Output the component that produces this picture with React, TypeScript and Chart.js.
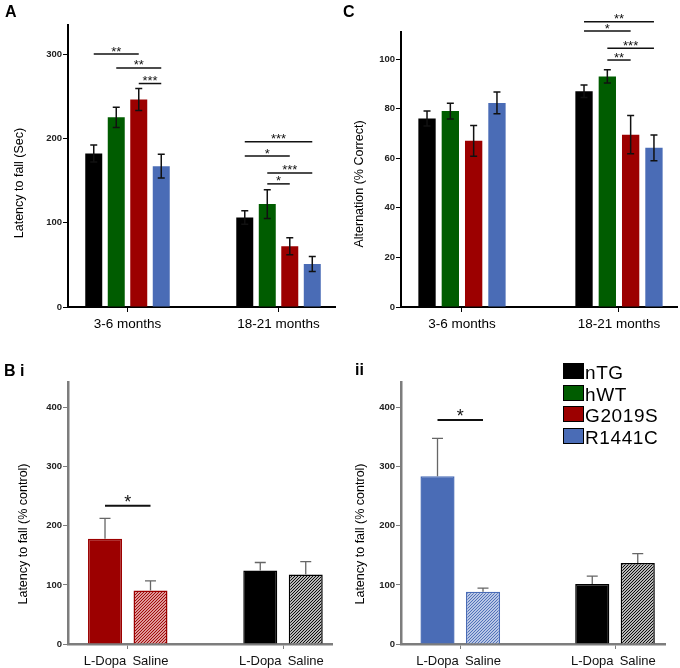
import React, { useEffect, useRef } from 'react';
import { Chart, registerables } from 'chart.js';

Chart.register(...registerables);

const FONT = '"Liberation Sans", Arial, Helvetica, sans-serif';

// ---------- data ----------
const genotypes = ['nTG', 'hWT', 'G2019S', 'R1441C'];
const genotypeColors = ['#000000', '#005c00', '#9c0000', '#4a6cb6'];
const ageGroups = ['3-6 months', '18-21 months'];

// Panel A: latency to fall (Sec), [3-6 months, 18-21 months]
const latencyNTG = [182, 106];
const latencyHWT = [225, 122];
const latencyG2019S = [246, 72];
const latencyR1441C = [167, 51];
const latencyErrNTG = [10, 8];
const latencyErrHWT = [12, 17];
const latencyErrG2019S = [13, 10];
const latencyErrR1441C = [14, 9];
const latencyTicks = [0, 100, 200, 300];

// Panel C: alternation (% correct)
const alternationNTG = [76, 87];
const alternationHWT = [79, 93];
const alternationG2019S = [67, 69.5];
const alternationR1441C = [82.3, 64.2];
const alternationErrNTG = [3, 2.5];
const alternationErrHWT = [3.2, 2.7];
const alternationErrG2019S = [6.2, 7.7];
const alternationErrR1441C = [4.4, 5.2];
const alternationTicks = [0, 20, 40, 60, 80, 100];

// Panel B: latency to fall (% control), L-Dopa vs Saline
const treatments = ['L-Dopa', 'Saline'];
const biLDopa = [178, 124.5];
const biSaline = [90.5, 117.5];
const biLDopaErr = [34.5, 13.5];
const biSalineErr = [16.5, 22];
const biiLDopa = [284, 101.5];
const biiSaline = [88.5, 137];
const biiLDopaErr = [64, 13.5];
const biiSalineErr = [6, 16];
const percentTicks = [0, 100, 200, 300, 400];

// Significance brackets: [group, from bar, to bar, bracket level (data units), label]
const sigA: [number, number, number, number, string][] = [
  [0, 0, 2, 300, '**'],
  [0, 1, 3, 283.5, '**'],
  [0, 2, 3, 265, '***'],
  [1, 0, 3, 196, '***'],
  [1, 0, 2, 179, '*'],
  [1, 1, 3, 159, '***'],
  [1, 1, 2, 146, '*'],
];
const sigC: [number, number, number, number, string][] = [
  [1, 0, 3, 115, '**'],
  [1, 0, 2, 111.3, '*'],
  [1, 1, 3, 104.3, '***'],
  [1, 1, 2, 99.6, '**'],
];
const sigBi: [number, number, number, number, string][] = [[0, 0, 1, 234, '*']];
const sigBii: [number, number, number, number, string][] = [[0, 0, 1, 379, '*']];

// ---------- helpers ----------
function hatch(bg: string, fg: string) {
  const c = document.createElement('canvas');
  c.width = 3;
  c.height = 3;
  const g = c.getContext('2d')!;
  g.fillStyle = bg;
  g.fillRect(0, 0, 3, 3);
  g.strokeStyle = fg;
  g.lineWidth = 1.1;
  g.beginPath();
  g.moveTo(0, 3);
  g.lineTo(3, 0);
  g.moveTo(-1, 1);
  g.lineTo(1, -1);
  g.moveTo(2, 4);
  g.lineTo(4, 2);
  g.stroke();
  return g.createPattern(c, 'repeat');
}

type Series = {
  label: string;
  values: number[];
  errors: number[];
  fill: any;
  border: any;
  borderWidth: number;
};

type Spec = {
  left: number;
  top: number;
  width: number;
  height: number;
  area: { l: number; t: number; r: number; b: number };
  xMin: number;
  xMax: number;
  yMax: number;
  yTicks: number[];
  xLabels: string[] | null;
  barLabels: string[] | null;
  series: () => Series[];
  catPct: number;
  barPct: number;
  errUpOnly: boolean;
  errColor: string;
  errWidth: number;
  capHalf: number;
  sig: [number, number, number, number, string][];
  sigFont: number;
  sigWidth: number;
  yTitle: string;
  titleX: number;
  titleY: number;
  axisColor: string;
  axisWidth: number;
};

function overlay(spec: Spec, series: Series[]) {
  return {
    id: 'overlay',
    afterDatasetsDraw(chart: any) {
      const ctx = chart.ctx as CanvasRenderingContext2D;
      const ys = chart.scales.y;
      const area = chart.chartArea;
      ctx.save();
      // error bars
      series.forEach((s, d) => {
        const meta = chart.getDatasetMeta(d);
        meta.data.forEach((bar: any, i: number) => {
          const v = s.values[i];
          const e = s.errors[i];
          const x = bar.x;
          const yTop = ys.getPixelForValue(v + e);
          const yBot = spec.errUpOnly ? bar.y : ys.getPixelForValue(v - e);
          ctx.strokeStyle = spec.errColor;
          ctx.lineWidth = spec.errWidth;
          ctx.beginPath();
          ctx.moveTo(x, yBot);
          ctx.lineTo(x, yTop);
          ctx.moveTo(x - spec.capHalf, yTop);
          ctx.lineTo(x + spec.capHalf, yTop);
          if (!spec.errUpOnly) {
            ctx.moveTo(x - spec.capHalf, yBot);
            ctx.lineTo(x + spec.capHalf, yBot);
          }
          ctx.stroke();
        });
      });
      // significance brackets
      spec.sig.forEach(([g, a, b, level, text]) => {
        const xa = chart.getDatasetMeta(a).data[g].x;
        const xb = chart.getDatasetMeta(b).data[g].x;
        const yy = ys.getPixelForValue(level);
        ctx.strokeStyle = '#111';
        ctx.lineWidth = spec.sigWidth;
        ctx.beginPath();
        ctx.moveTo(xa, yy);
        ctx.lineTo(xb, yy);
        ctx.stroke();
        ctx.fillStyle = '#111';
        ctx.font = `${spec.sigFont}px ${FONT}`;
        ctx.textAlign = 'center';
        ctx.textBaseline = 'alphabetic';
        ctx.fillText(text, (xa + xb) / 2, yy + (spec.sigFont > 14 ? 2 : 1.5));
      });
      // per-bar labels (panel B)
      if (spec.barLabels) {
        ctx.fillStyle = '#111';
        ctx.font = `13px ${FONT}`;
        ctx.textAlign = 'center';
        ctx.textBaseline = 'middle';
        series.forEach((s, d) => {
          chart.getDatasetMeta(d).data.forEach((bar: any) => {
            ctx.fillText(spec.barLabels![d], bar.x, area.bottom + 17);
          });
        });
      }
      // y title
      ctx.translate(spec.titleX, spec.titleY);
      ctx.rotate(-Math.PI / 2);
      ctx.fillStyle = '#000';
      ctx.font = `12.5px ${FONT}`;
      ctx.textAlign = 'center';
      ctx.textBaseline = 'middle';
      ctx.fillText(spec.yTitle, 0, 0);
      ctx.restore();
    },
  };
}

function buildChart(canvas: HTMLCanvasElement, spec: Spec) {
  const series = spec.series();
  const datasets = series.map((s) => ({
    label: s.label,
    data: s.values.map((v, i) => ({ x: i + 1, y: v })),
    backgroundColor: s.fill,
    borderColor: s.border,
    borderWidth: s.borderWidth,
    categoryPercentage: spec.catPct,
    barPercentage: spec.barPct,
  }));
  const ac = spec.axisColor;
  return new Chart(canvas, {
    type: 'bar',
    data: { datasets } as any,
    options: {
      responsive: false,
      maintainAspectRatio: false,
      animation: false,
      events: [],
      layout: {
        padding: { top: spec.area.t, right: spec.width - spec.area.r, left: 0, bottom: 0 },
      },
      plugins: { legend: { display: false }, tooltip: { enabled: false } },
      scales: {
        x: {
          type: 'linear',
          min: spec.xMin,
          max: spec.xMax,
          offset: false,
          afterBuildTicks: (s: any) => {
            s.ticks = [{ value: 1 }, { value: 2 }];
          },
          afterFit: (s: any) => {
            s.height = spec.height - spec.area.b;
            s.paddingLeft = 0;
            s.paddingRight = 0;
          },
          grid: {
            display: true,
            offset: false,
            drawOnChartArea: false,
            drawTicks: true,
            tickLength: 5,
            color: ac,
            lineWidth: 1,
          },
          border: { display: true, color: ac, width: spec.axisWidth },
          ticks: {
            autoSkip: false,
            maxRotation: 0,
            padding: 4,
            color: '#000',
            font: { family: FONT, size: 13.5 },
            callback: (v: any) => (spec.xLabels ? spec.xLabels[Math.round(v) - 1] ?? '' : ''),
          },
        },
        y: {
          type: 'linear',
          min: 0,
          max: spec.yMax,
          afterBuildTicks: (s: any) => {
            s.ticks = spec.yTicks.map((v) => ({ value: v }));
          },
          afterFit: (s: any) => {
            s.width = spec.area.l;
            s.paddingTop = 0;
            s.paddingBottom = 0;
          },
          grid: {
            display: true,
            drawOnChartArea: false,
            drawTicks: true,
            tickLength: 5,
            color: ac,
            lineWidth: 1,
          },
          border: { display: true, color: ac, width: spec.axisWidth },
          ticks: {
            padding: 1,
            color: '#222',
            font: { family: FONT, size: 9.5, weight: 'bold' },
          },
        },
      },
    } as any,
    plugins: [overlay(spec, series)],
  });
}

// ---------- panel specs ----------
const genotypeSeries = (vals: number[][], errs: number[][]) => () =>
  genotypes.map((g, k) => ({
    label: g,
    values: vals[k],
    errors: errs[k],
    fill: genotypeColors[k],
    border: genotypeColors[k],
    borderWidth: 0,
  }));

const specA: Spec = {
  left: 0, top: 0, width: 340, height: 334,
  area: { l: 68, t: 25, r: 335, b: 307 },
  xMin: 0.606, xMax: 2.374, yMax: 334.4, yTicks: latencyTicks,
  xLabels: ageGroups, barLabels: null,
  series: genotypeSeries(
    [latencyNTG, latencyHWT, latencyG2019S, latencyR1441C],
    [latencyErrNTG, latencyErrHWT, latencyErrG2019S, latencyErrR1441C]
  ),
  catPct: 0.596, barPct: 0.755,
  errUpOnly: false, errColor: '#111', errWidth: 1.5, capHalf: 3.5,
  sig: sigA, sigFont: 13, sigWidth: 1.5,
  yTitle: 'Latency to fall (Sec)', titleX: 20, titleY: 183,
  axisColor: '#000', axisWidth: 2,
};

const specC: Spec = {
  left: 340, top: 0, width: 340, height: 334,
  area: { l: 61, t: 32, r: 337, b: 307 },
  xMin: 0.6115, xMax: 2.3695, yMax: 110.9, yTicks: alternationTicks,
  xLabels: ageGroups, barLabels: null,
  series: genotypeSeries(
    [alternationNTG, alternationHWT, alternationG2019S, alternationR1441C],
    [alternationErrNTG, alternationErrHWT, alternationErrG2019S, alternationErrR1441C]
  ),
  catPct: 0.594, barPct: 0.743,
  errUpOnly: false, errColor: '#111', errWidth: 1.5, capHalf: 3.5,
  sig: sigC, sigFont: 13, sigWidth: 1.5,
  yTitle: 'Alternation (% Correct)', titleX: 20, titleY: 184,
  axisColor: '#000', axisWidth: 2,
};

const treatmentSeries = (
  groupColors: string[],
  hatchBg: string[],
  ldopa: number[],
  ldopaErr: number[],
  saline: number[],
  salineErr: number[]
) => () => [
  {
    label: treatments[0],
    values: ldopa,
    errors: ldopaErr,
    fill: groupColors,
    border: groupColors,
    borderWidth: 1.5,
  },
  {
    label: treatments[1],
    values: saline,
    errors: salineErr,
    fill: groupColors.map((c, i) => hatch(hatchBg[i], c)),
    border: groupColors,
    borderWidth: 1.5,
  },
];

const specBi: Spec = {
  left: 0, top: 334, width: 340, height: 334,
  area: { l: 68, t: 48, r: 332, b: 310 },
  xMin: 0.6151, xMax: 2.3156, yMax: 443.5, yTicks: percentTicks,
  xLabels: null, barLabels: treatments,
  series: treatmentSeries(
    [genotypeColors[2], genotypeColors[0]],
    ['#f8d6d6', '#ffffff'],
    biLDopa, biLDopaErr, biSaline, biSalineErr
  ),
  catPct: 0.586, barPct: 0.747,
  errUpOnly: true, errColor: '#666', errWidth: 1.3, capHalf: 5.5,
  sig: sigBi, sigFont: 18, sigWidth: 2,
  yTitle: 'Latency to fall (% control)', titleX: 24, titleY: 200,
  axisColor: '#7d7d7d', axisWidth: 2.5,
};

const specBii: Spec = {
  left: 340, top: 334, width: 340, height: 334,
  area: { l: 61, t: 48, r: 325, b: 310 },
  xMin: 0.6171, xMax: 2.3231, yMax: 443.5, yTicks: percentTicks,
  xLabels: null, barLabels: treatments,
  series: treatmentSeries(
    [genotypeColors[3], genotypeColors[0]],
    ['#e6ecf8', '#ffffff'],
    biiLDopa, biiLDopaErr, biiSaline, biiSalineErr
  ),
  catPct: 0.588, barPct: 0.75,
  errUpOnly: true, errColor: '#666', errWidth: 1.3, capHalf: 5.5,
  sig: sigBii, sigFont: 18, sigWidth: 2,
  yTitle: 'Latency to fall (% control)', titleX: 21, titleY: 200,
  axisColor: '#7d7d7d', axisWidth: 2.5,
};

function Panel({ spec }: { spec: Spec }) {
  const ref = useRef<HTMLCanvasElement | null>(null);
  useEffect(() => {
    const chart = buildChart(ref.current!, spec);
    return () => chart.destroy();
  }, [spec]);
  return (
    <canvas
      ref={ref}
      width={spec.width}
      height={spec.height}
      style={{ position: 'absolute', left: spec.left, top: spec.top, width: spec.width, height: spec.height }}
    />
  );
}

const letterStyle: React.CSSProperties = {
  position: 'absolute',
  fontFamily: FONT,
  fontWeight: 'bold',
  fontSize: 16,
  lineHeight: '16px',
  color: '#000',
  whiteSpace: 'pre',
};

export default function App() {
  return (
    <div style={{ position: 'absolute', left: 0, top: 0, width: 680, height: 668, background: '#fff', overflow: 'hidden' }}>
      <Panel spec={specA} />
      <Panel spec={specC} />
      <Panel spec={specBi} />
      <Panel spec={specBii} />
      <div style={{ ...letterStyle, left: 5, top: 4 }}>A</div>
      <div style={{ ...letterStyle, left: 343, top: 4 }}>C</div>
      <div style={{ ...letterStyle, left: 4, top: 363 }}>B i</div>
      <div style={{ ...letterStyle, left: 355, top: 362 }}>ii</div>
      {genotypes.map((g, k) => (
        <div key={g} style={{ position: 'absolute', left: 563, top: 363 + k * 21.7, height: 16, display: 'flex', alignItems: 'flex-end' }}>
          <div style={{ width: 19, height: 14, background: genotypeColors[k], border: '1px solid #000' }} />
          <div
            style={{
              fontFamily: FONT,
              fontSize: 19,
              lineHeight: '16px',
              letterSpacing: 0.6,
              color: '#000',
              marginLeft: 1,
              position: 'relative',
              top: 2,
            }}
          >
            {g}
          </div>
        </div>
      ))}
    </div>
  );
}
